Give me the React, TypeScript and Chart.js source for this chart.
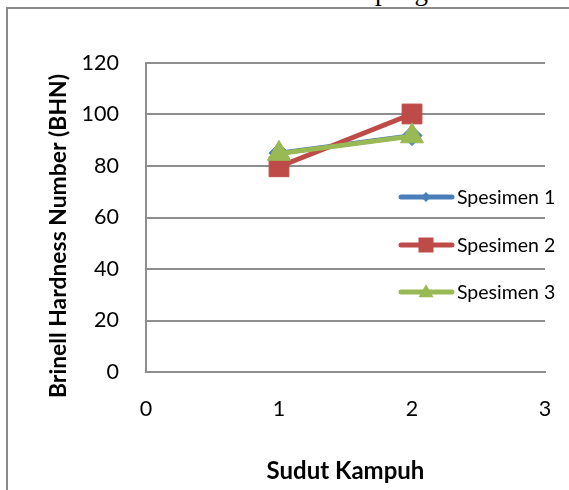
import React, { useEffect, useRef } from "react";
import { Chart, registerables } from "chart.js";

Chart.register(...registerables);

const X_VALUES = [1, 2];
const SPESIMEN_1 = [85.0, 91.8];
const SPESIMEN_2 = [79.7, 100.2];
const SPESIMEN_3 = [84.8, 91.6];
const SERIES_NAMES = ["Spesimen 1", "Spesimen 2", "Spesimen 3"];
const X_MIN = 0;
const X_MAX = 3;
const Y_MIN = 0;
const Y_MAX = 120;
const Y_STEP = 20;
const X_TITLE = "Sudut Kampuh";
const Y_TITLE = "Brinell Hardness Number (BHN)";
const TOP_TEXT = "Dari tabel di atas maka di dapat grafik hasil";

const COLORS = ["#4A7EBB", "#BE4B48", "#98B954"];
const STYLES = ["rectRot", "rect", "triangle"];
const FONT = "Lato, 'Open Sans', sans-serif";

function drawMarker(ctx: CanvasRenderingContext2D, style: string, x: number, y: number, s: number) {
  ctx.beginPath();
  if (style === "rect") {
    ctx.rect(x - s / 2, y - s / 2, s, s);
  } else if (style === "rectRot") {
    ctx.moveTo(x, y - s / 2);
    ctx.lineTo(x + s / 2, y);
    ctx.lineTo(x, y + s / 2);
    ctx.lineTo(x - s / 2, y);
    ctx.closePath();
  } else {
    const h = s * 0.87;
    ctx.moveTo(x, y - h * 0.6);
    ctx.lineTo(x + s / 2, y + h * 0.4);
    ctx.lineTo(x - s / 2, y + h * 0.4);
    ctx.closePath();
  }
  ctx.fill();
}

const customLegend = {
  id: "customLegend",
  afterDraw(chart: any) {
    const ctx = chart.ctx as CanvasRenderingContext2D;
    const ys = [197, 245, 292];
    const sizes = [10, 15, 15];
    ctx.save();
    chart.data.datasets.forEach((ds: any, i: number) => {
      const y = ys[i];
      ctx.strokeStyle = ds.borderColor;
      ctx.fillStyle = ds.borderColor;
      ctx.lineWidth = 5;
      ctx.lineCap = "round";
      ctx.beginPath();
      ctx.moveTo(401, y);
      ctx.lineTo(452, y);
      ctx.stroke();
      drawMarker(ctx, STYLES[i], 426, y, sizes[i]);
      ctx.fillStyle = "#000";
      ctx.font = `19.5px ${FONT}`;
      ctx.textAlign = "left";
      ctx.textBaseline = "middle";
      ctx.fillText(ds.label, 457, y + 1);
    });
    ctx.restore();
  },
};

const yTitlePlugin = {
  id: "yTitlePlugin",
  afterDraw(chart: any) {
    const ctx = chart.ctx as CanvasRenderingContext2D;
    ctx.save();
    ctx.translate(59, 236);
    ctx.rotate(-Math.PI / 2);
    ctx.font = `bold 22.9px ${FONT}`;
    ctx.fillStyle = "#000";
    ctx.textAlign = "center";
    ctx.textBaseline = "middle";
    ctx.fillText(Y_TITLE, 0, 0);
    ctx.restore();
  },
};

export default function App() {
  const canvasRef = useRef<HTMLCanvasElement | null>(null);

  useEffect(() => {
    if (!canvasRef.current) return;
    const seriesData = [SPESIMEN_1, SPESIMEN_2, SPESIMEN_3];
    const radii = [10, 14, 13.3];
    const chart = new Chart(canvasRef.current, {
      type: "line",
      data: {
        datasets: seriesData.map((vals, i) => ({
          label: SERIES_NAMES[i],
          data: X_VALUES.map((x, j) => ({ x, y: vals[j] })),
          borderColor: COLORS[i],
          backgroundColor: COLORS[i],
          pointBackgroundColor: COLORS[i],
          pointBorderColor: COLORS[i],
          borderWidth: 5,
          pointStyle: STYLES[i] as any,
          pointRadius: radii[i],
          pointBorderWidth: 1,
          tension: 0,
          order: 3 - i,
        })),
      },
      options: {
        responsive: false,
        animation: false,
        events: [],
        layout: { padding: { left: 45, right: 24, top: 63, bottom: 0 } },
        plugins: { legend: { display: false }, tooltip: { enabled: false } },
        scales: {
          x: {
            type: "linear",
            min: X_MIN,
            max: X_MAX,
            afterFit: (s: any) => {
              s.height = 118;
              s.paddingLeft = 0;
              s.paddingRight = 0;
            },
            ticks: {
              stepSize: 1,
              padding: 24,
              color: "#000",
              font: { family: FONT, size: 21.5 },
            },
            grid: { display: false, drawTicks: false },
            border: { display: true, color: "#8e8e8e", width: 2 },
            title: {
              display: true,
              text: X_TITLE,
              color: "#000",
              font: { family: FONT, size: 24, weight: "bold" },
              padding: { top: 0, bottom: 4 },
            },
          },
          y: {
            min: Y_MIN,
            max: Y_MAX,
            afterFit: (s: any) => {
              s.width = 101;
            },
            ticks: {
              stepSize: Y_STEP,
              padding: 27,
              color: "#000",
              font: { family: FONT, size: 21.5 },
            },
            grid: { color: "#8e8e8e", lineWidth: 2, drawTicks: false },
            border: { display: true, color: "#8e8e8e", width: 2 },
          },
        },
      },
      plugins: [customLegend, yTitlePlugin],
    });
    return () => chart.destroy();
  }, []);

  return (
    <div
      style={{
        position: "fixed",
        left: 0,
        top: 0,
        width: 569,
        height: 490,
        overflow: "hidden",
        background: "#fff",
      }}
    >
      <div
        style={{
          position: "absolute",
          left: 66,
          top: -22,
          fontFamily: "'Liberation Serif', serif",
          fontSize: 27,
          lineHeight: "27px",
          whiteSpace: "nowrap",
          color: "#000",
        }}
      >
        {TOP_TEXT}
      </div>
      <div
        style={{
          position: "absolute",
          left: 6,
          top: 7,
          width: 700,
          height: 700,
          borderLeft: "2px solid #8a8a8a",
          borderTop: "2px solid #8a8a8a",
          background: "#fff",
        }}
      />
      <canvas
        ref={canvasRef}
        width={569}
        height={490}
        style={{ position: "absolute", left: 0, top: 0, width: 569, height: 490 }}
      />
    </div>
  );
}
